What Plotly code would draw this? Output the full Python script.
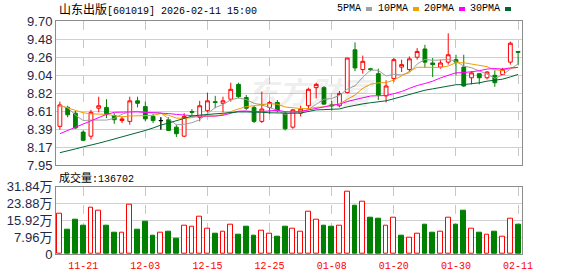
import plotly.graph_objects as go

# ---------------- data ----------------
dates = ["11-18", "11-19", "11-20", "11-21", "11-24", "11-25", "11-26", "11-27", "11-28",
         "12-01", "12-02", "12-03", "12-04", "12-05", "12-08", "12-09", "12-10", "12-11",
         "12-12", "12-15", "12-16", "12-17", "12-18", "12-19", "12-22", "12-23", "12-24",
         "12-25", "12-26", "12-29", "12-30", "12-31", "01-05", "01-06", "01-07", "01-08",
         "01-09", "01-12", "01-13", "01-14", "01-15", "01-16", "01-19", "01-20", "01-21",
         "01-22", "01-23", "01-26", "01-27", "01-28", "01-29", "01-30", "02-02", "02-03",
         "02-04", "02-05", "02-06", "02-09", "02-10", "02-11"]

opens = [8.42, 8.65, 8.58, 8.35, 8.30, 8.64, 8.65, 8.55, 8.49, 8.48,
         8.73, 8.66, 8.54, 8.49, 8.50, 8.41, 8.30, 8.60, 8.53, 8.61,
         8.72, 8.70, 8.75, 8.93, 8.77, 8.65, 8.48, 8.65, 8.71, 8.58,
         8.41, 8.58, 8.67, 8.89, 8.89, 8.68, 8.67, 8.83, 9.35, 9.11,
         9.12, 9.06, 8.79, 9.00, 9.14, 9.11, 9.26, 9.36, 9.19, 9.14,
         9.20, 9.23, 9.14, 9.01, 9.06, 9.01, 9.04, 9.05, 9.20, 9.33]
highs = [8.72, 8.67, 8.61, 8.37, 8.62, 8.78, 8.75, 8.58, 8.54, 8.78,
         8.78, 8.72, 8.57, 8.53, 8.53, 8.44, 8.58, 8.63, 8.73, 8.83,
         8.79, 8.78, 8.95, 8.95, 8.80, 8.67, 8.84, 8.73, 8.74, 8.59,
         8.63, 8.67, 8.89, 8.95, 8.91, 8.73, 8.85, 9.25, 9.44, 9.28,
         9.13, 9.12, 8.98, 9.25, 9.23, 9.27, 9.37, 9.41, 9.25, 9.23,
         9.55, 9.29, 9.29, 9.09, 9.06, 9.09, 9.10, 9.13, 9.45, 9.33]
lows = [8.38, 8.53, 8.39, 8.24, 8.26, 8.59, 8.52, 8.45, 8.46, 8.44,
        8.65, 8.48, 8.46, 8.38, 8.37, 8.29, 8.29, 8.55, 8.48, 8.59,
        8.64, 8.59, 8.72, 8.76, 8.62, 8.46, 8.46, 8.57, 8.59, 8.37,
        8.39, 8.54, 8.63, 8.76, 8.68, 8.61, 8.65, 8.82, 9.09, 9.06,
        9.09, 8.74, 8.71, 8.96, 9.08, 9.08, 9.23, 9.13, 9.02, 9.12,
        9.17, 9.04, 8.90, 8.93, 8.93, 8.99, 8.90, 9.04, 9.17, 9.17]
closes = [8.68, 8.56, 8.40, 8.25, 8.59, 8.67, 8.57, 8.50, 8.51, 8.73,
          8.70, 8.51, 8.49, 8.49, 8.37, 8.33, 8.54, 8.59, 8.67, 8.73,
          8.71, 8.73, 8.87, 8.78, 8.64, 8.48, 8.63, 8.71, 8.61, 8.39,
          8.62, 8.63, 8.87, 8.93, 8.69, 8.67, 8.82, 9.25, 9.13, 9.21,
          9.11, 8.80, 8.91, 9.23, 9.17, 9.24, 9.33, 9.20, 9.17, 9.19,
          9.29, 9.20, 8.91, 9.07, 9.01, 9.08, 8.95, 9.11, 9.43, 9.32]
volumes = [192900, 114500, 161600, 133300, 221200, 207000, 133300, 100400, 98800, 235300,
           114500, 152100, 86300, 98800, 105100, 72100, 133300, 128600, 178800, 119200,
           95700, 103500, 136500, 91000, 128600, 86300, 108200, 94100, 81600, 128600,
           117600, 103500, 202300, 160000, 133300, 128600, 133300, 296400, 227400, 249400,
           171000, 166300, 133300, 174100, 86300, 75300, 94100, 138000, 100400, 103500,
           174100, 138000, 203900, 117600, 100400, 89400, 105100, 81600, 164700, 136702]

ma5_head = [8.67, 8.646, 8.557, 8.49]
ma10_head = [8.674, 8.646, 8.61, 8.585, 8.572, 8.57, 8.565, 8.55, 8.535]
ma20_head = [8.33, 8.37, 8.41, 8.45, 8.49, 8.53, 8.565, 8.59, 8.595, 8.595,
             8.595, 8.59, 8.59, 8.585, 8.575, 8.565, 8.555, 8.55, 8.545]
ma30_head = [8.10, 8.12, 8.145, 8.17, 8.19, 8.215, 8.24, 8.265, 8.29, 8.315,
             8.345, 8.37, 8.40, 8.435, 8.46, 8.487, 8.515, 8.544, 8.556, 8.565,
             8.575, 8.585, 8.59, 8.595, 8.595, 8.595, 8.59, 8.585, 8.58]

price_ticks = [7.95, 8.17, 8.39, 8.61, 8.82, 9.04, 9.26, 9.48, 9.70]
price_tick_vals = [7.95 + k * 0.21875 for k in range(9)]
vol_tick_vals = [0, 79600, 159200, 238800, 318400]
vol_tick_text = ["0", "7.96万", "15.92万", "23.88万", "31.84万"]
date_ticks = ["11-21", "12-03", "12-15", "12-25", "01-08", "01-20", "01-30", "02-11"]
ma_names = ["5PMA", "10PMA", "20PMA", "30PMA"]
stock_title = "山东出版[601019] 2026-02-11 15:00"
vol_label = "成交量:136702"
watermark = "东方财富"


def moving_avg(head, n):
    out = list(head)
    for i in range(n - 1, len(closes)):
        out.append(sum(closes[i - n + 1:i + 1]) / n)
    return out


ma_lists = [moving_avg(ma5_head, 5), moving_avg(ma10_head, 10),
            moving_avg(ma20_head, 20), moving_avg(ma30_head, 30)]

# ---------------- style ----------------
RED = "#ff0000"
GREEN = "#008000"
MA_COLORS = ["#a0a0a0", "#f0a000", "#ff00ff", "#006633"]
GRID = "#d0d0d0"
FRAME = "#8c8c8c"
LABEL = "#1e2848"

W, H = 578, 276
L, R, T, B = 56, 522, 21, 254  # plot area in px


def px_x(px):
    return (px - L) / (R - L)


def px_y(py):
    return (B - py) / (B - T)


fig = go.Figure()

fig.add_trace(go.Candlestick(
    x=dates, open=opens, high=highs, low=lows, close=closes,
    increasing=dict(line=dict(color=RED, width=1), fillcolor="white"),
    decreasing=dict(line=dict(color=GREEN, width=1), fillcolor=GREEN),
    whiskerwidth=0, xaxis="x", yaxis="y", hoverinfo="skip",
))
# flat (open == close) candles in black
flat_idx = [i for i in range(len(dates)) if abs(opens[i] - closes[i]) < 1e-9]
if flat_idx:
    fig.add_trace(go.Candlestick(
        x=[dates[i] for i in flat_idx], open=[opens[i] for i in flat_idx],
        high=[highs[i] for i in flat_idx], low=[lows[i] for i in flat_idx],
        close=[closes[i] for i in flat_idx],
        increasing=dict(line=dict(color="black", width=1), fillcolor="black"),
        decreasing=dict(line=dict(color="black", width=1), fillcolor="black"),
        whiskerwidth=0, xaxis="x", yaxis="y", hoverinfo="skip",
    ))

for vals, col in zip(ma_lists, MA_COLORS):
    fig.add_trace(go.Scatter(x=dates, y=vals, mode="lines",
                             line=dict(color=col, width=1),
                             xaxis="x", yaxis="y", hoverinfo="skip"))

# volume colour: compare with previous close
up = []
for i in range(len(dates)):
    ref = closes[i - 1] if i > 0 else opens[i]
    up.append(closes[i] >= ref)

fig.add_trace(go.Bar(
    x=[d for d, u in zip(dates, up) if u], y=[v for v, u in zip(volumes, up) if u],
    marker=dict(color="white", line=dict(color=RED, width=1)), width=0.62,
    xaxis="x2", yaxis="y2", hoverinfo="skip"))
fig.add_trace(go.Bar(
    x=[d for d, u in zip(dates, up) if not u], y=[v for v, u in zip(volumes, up) if not u],
    marker=dict(color=GREEN, line=dict(color=GREEN, width=1)), width=0.62,
    xaxis="x2", yaxis="y2", hoverinfo="skip"))

xcommon = dict(type="category", categoryorder="array", categoryarray=dates,
               range=[-0.5, len(dates) - 0.5], tickmode="array", tickvals=date_ticks,
               showgrid=True, gridcolor="#c8c8c8", griddash="dash", gridwidth=1,
               showline=True, linecolor=FRAME, linewidth=1, mirror=True,
               zeroline=False, fixedrange=True, automargin=False)

fig.update_layout(
    width=W, height=H, margin=dict(l=L, r=W - R, t=T, b=H - B, pad=0, autoexpand=False),
    paper_bgcolor="white", plot_bgcolor="white", showlegend=False,
    barmode="overlay", bargap=0,
    xaxis=dict(**xcommon, anchor="y", showticklabels=False, ticks="",
               rangeslider=dict(visible=False)),
    xaxis2=dict(**xcommon, anchor="y2", matches="x", showticklabels=True,
                ticks="outside", ticklen=2, tickcolor="rgba(0,0,0,0)",
                tickfont=dict(family="Liberation Mono, monospace", size=10, color=RED)),
    yaxis=dict(domain=[px_y(165), 1], range=[price_tick_vals[0], price_tick_vals[-1]],
               tickmode="array", tickvals=price_tick_vals, ticktext=[f"{t:.2f}" for t in price_ticks],
               showgrid=True, gridcolor=GRID, gridwidth=1, zeroline=False,
               showline=True, linecolor=FRAME, mirror=True, ticks="", automargin=False,
               tickfont=dict(family="Liberation Sans, Arial", size=13, color=LABEL),
               fixedrange=True),
    yaxis2=dict(domain=[0, px_y(186.7)], range=[0, vol_tick_vals[-1]],
                tickmode="array", tickvals=vol_tick_vals, ticktext=vol_tick_text,
                showgrid=True, gridcolor=GRID, gridwidth=1, zeroline=False,
                showline=True, linecolor=FRAME, mirror=True, ticks="", automargin=False,
                tickfont=dict(family="Liberation Sans, Noto Sans CJK SC", size=13, color=LABEL),
                fixedrange=True),
)

ann = []
ann.append(dict(xref="paper", yref="paper", x=px_x(57), y=px_y(8.5), xanchor="left", yanchor="middle",
                text=stock_title.replace("山东出版", "<span style='font-family:Noto Sans CJK SC;font-size:12px'>山东出版</span>"),
                showarrow=False, font=dict(family="Liberation Mono, monospace", size=10, color="black")))
ann.append(dict(xref="paper", yref="paper", x=px_x(57), y=px_y(177), xanchor="left", yanchor="middle",
                text=vol_label.replace("成交量", "<span style='font-family:Noto Sans CJK SC;font-size:11px'>成交量</span>"),
                showarrow=False, font=dict(family="Liberation Mono, monospace", size=10, color="black")))
ann.append(dict(xref="paper", yref="paper", x=px_x(311), y=px_y(90), xanchor="center", yanchor="middle",
                text="<b><i>" + watermark + "</i></b>", showarrow=False,
                font=dict(family="Noto Sans CJK SC", size=31, color="rgba(0,0,0,0.085)")))

legend_sq_left = [366, 413, 459, 505]
shapes = []
for name, col, sx in zip(ma_names, MA_COLORS, legend_sq_left):
    ann.append(dict(xref="paper", yref="paper", x=px_x(sx - 3), y=px_y(8.5), xanchor="right",
                    yanchor="middle", text=name, showarrow=False,
                    font=dict(family="Liberation Mono, monospace", size=10, color="black")))
    shapes.append(dict(type="rect", xref="paper", yref="paper", x0=px_x(sx), x1=px_x(sx + 6),
                       y0=px_y(11), y1=px_y(7), fillcolor=col, line=dict(width=0)))

fig.update_layout(annotations=ann, shapes=shapes)

fig.write_html("out.html", config=dict(displayModeBar=False))
